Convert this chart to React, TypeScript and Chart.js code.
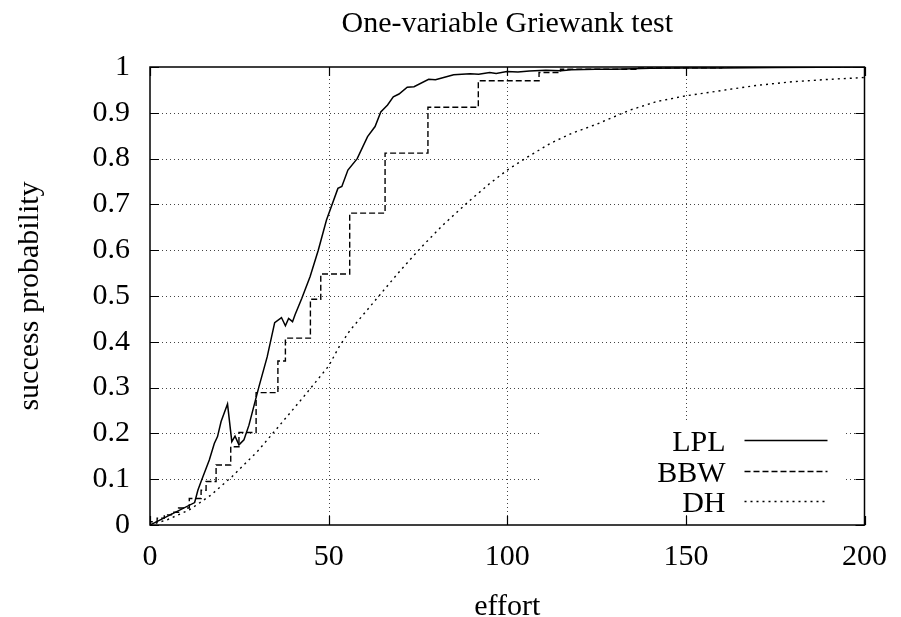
import React, { useEffect, useRef } from "react";
import { Chart, registerables } from "chart.js";

Chart.register(...registerables);

const TITLE = "One-variable Griewank test";
const X_LABEL = "effort";
const Y_LABEL = "success probability";
const SERIES_NAMES = ["LPL", "BBW", "DH"];
const X_RANGE = [0, 200];
const X_STEP = 50;
const Y_RANGE = [0, 1];
const Y_STEP = 0.1;

// LPL (solid)
const LPL_X = [0, 12.5, 13.4, 14.3, 16.6, 18.0, 18.9, 19.9, 21.7, 22.9, 23.8, 24.9, 26.3, 27.7, 30.5, 32.8, 34.9, 36.8, 37.9, 38.8, 39.9, 40.6, 42.5, 44.8, 47.1, 49.4, 52.6, 53.7, 55.4, 58.0, 60.9, 63.0, 64.6, 66.5, 68.1, 69.7, 72.0, 73.9, 78.0, 79.9, 82.2, 85.0, 89.6, 92, 95.1, 96.9, 99.9, 103, 106.2, 110.8, 115, 118, 124.7, 130, 140, 150, 160, 175, 200];
const LPL_Y = [0, 0.049, 0.076, 0.095, 0.142, 0.178, 0.193, 0.226, 0.264, 0.182, 0.194, 0.175, 0.186, 0.218, 0.302, 0.367, 0.442, 0.453, 0.435, 0.451, 0.444, 0.459, 0.495, 0.542, 0.6, 0.666, 0.735, 0.739, 0.775, 0.8, 0.848, 0.87, 0.902, 0.917, 0.935, 0.941, 0.956, 0.957, 0.973, 0.972, 0.977, 0.983, 0.985, 0.984, 0.988, 0.986, 0.99, 0.989, 0.991, 0.993, 0.992, 0.994, 0.995, 0.995, 0.997, 0.998, 0.998, 0.999, 1.0];

// BBW (dashed, step function: value holds from x until next x)
const BBW_X = [0, 2, 4, 6, 8, 11, 14.3, 15.7, 18.5, 22.6, 24.9, 29.7, 35.8, 37.9, 44.9, 47.8, 55.9, 65.8, 77.8, 91.9, 108.9, 114.9, 136, 160, 180, 200];
const BBW_Y = [0, 0.007, 0.015, 0.022, 0.028, 0.037, 0.058, 0.076, 0.095, 0.131, 0.171, 0.202, 0.289, 0.358, 0.408, 0.493, 0.548, 0.681, 0.812, 0.912, 0.97, 0.988, 0.995, 0.998, 1.0, 1.0];

// DH (dotted)
const DH_X = [0, 5, 11, 17, 23, 30, 36, 43, 50, 53, 56, 63, 70, 76, 82, 89, 95, 100, 106, 112, 118, 125, 134, 142, 150, 162, 170, 180, 190, 200];
const DH_Y = [0, 0.012, 0.033, 0.065, 0.106, 0.16, 0.215, 0.28, 0.347, 0.39, 0.425, 0.49, 0.555, 0.607, 0.655, 0.705, 0.745, 0.775, 0.805, 0.833, 0.855, 0.875, 0.905, 0.925, 0.937, 0.951, 0.96, 0.968, 0.973, 0.977];

const FONT = '"Liberation Serif", "Times New Roman", serif';
const FONT_SIZE = 30;
const LINE_STYLES: number[][] = [[], [6, 3], [2, 4]];

const toPoints = (xs: number[], ys: number[]) => xs.map((x, i) => ({ x, y: ys[i] }));

const gnuplotPlugin = {
  id: "gnuplotFrame",
  beforeDatasetsDraw(chart: any) {
    const { ctx, chartArea: a, scales } = chart;
    const x = scales.x;
    const y = scales.y;
    ctx.save();
    ctx.strokeStyle = "#444";
    ctx.lineWidth = 1;
    ctx.setLineDash([1, 3]);
    x.ticks.forEach((t: any) => {
      if (t.value > x.min && t.value < x.max) {
        const px = Math.round(x.getPixelForValue(t.value)) + 0.5;
        ctx.beginPath();
        ctx.moveTo(px, a.top);
        ctx.lineTo(px, a.bottom);
        ctx.stroke();
      }
    });
    y.ticks.forEach((t: any) => {
      if (t.value > y.min + 1e-9 && t.value < y.max - 1e-9) {
        const py = Math.round(y.getPixelForValue(t.value)) + 0.5;
        ctx.beginPath();
        ctx.moveTo(a.left, py);
        ctx.lineTo(a.right, py);
        ctx.stroke();
      }
    });
    // key area cleared like gnuplot
    ctx.setLineDash([]);
    ctx.fillStyle = "#fff";
    ctx.fillRect(a.right - 324, a.bottom - 102, 305, 92);
    ctx.restore();
  },
  afterDatasetsDraw(chart: any) {
    const { ctx, chartArea: a, scales } = chart;
    const x = scales.x;
    const y = scales.y;
    ctx.save();
    ctx.strokeStyle = "#000";
    ctx.lineWidth = 1.5;
    ctx.setLineDash([]);
    ctx.strokeRect(a.left, a.top, a.right - a.left, a.bottom - a.top);
    const tl = 9;
    ctx.lineWidth = 1.2;
    x.ticks.forEach((t: any) => {
      const px = Math.round(x.getPixelForValue(t.value)) + 0.5;
      ctx.beginPath();
      ctx.moveTo(px, a.bottom);
      ctx.lineTo(px, a.bottom - tl);
      ctx.moveTo(px, a.top);
      ctx.lineTo(px, a.top + tl);
      ctx.stroke();
    });
    y.ticks.forEach((t: any) => {
      const py = Math.round(y.getPixelForValue(t.value)) + 0.5;
      ctx.beginPath();
      ctx.moveTo(a.left, py);
      ctx.lineTo(a.left + tl, py);
      ctx.moveTo(a.right, py);
      ctx.lineTo(a.right - tl, py);
      ctx.stroke();
    });

    // key
    ctx.font = `${FONT_SIZE}px ${FONT}`;
    ctx.fillStyle = "#000";
    ctx.textAlign = "right";
    ctx.textBaseline = "alphabetic";
    const rows = [440, 471, 501];
    chart.data.datasets.forEach((ds: any, i: number) => {
      const ry = a.top + (rows[i] - 67);
      ctx.fillText(ds.label, a.right - 139, ry + 11);
      ctx.lineWidth = 1.4;
      ctx.setLineDash(LINE_STYLES[i]);
      ctx.beginPath();
      ctx.moveTo(a.right - 120, ry + 0.5);
      ctx.lineTo(a.right - 37, ry + 0.5);
      ctx.stroke();
    });
    ctx.setLineDash([]);

    // titles
    const cx = (a.left + a.right) / 2;
    ctx.textAlign = "center";
    ctx.fillText(TITLE, cx, 32);
    ctx.fillText(X_LABEL, cx, 615);
    ctx.save();
    ctx.translate(38, (a.top + a.bottom) / 2);
    ctx.rotate(-Math.PI / 2);
    ctx.fillText(Y_LABEL, 0, 0);
    ctx.restore();
    ctx.restore();
  },
};

export default function App() {
  const ref = useRef<HTMLCanvasElement | null>(null);
  useEffect(() => {
    document.body.style.margin = "0";
    const canvas = ref.current;
    if (!canvas) return;
    const chart = new Chart(canvas, {
      type: "line",
      data: {
        datasets: [
          {
            label: SERIES_NAMES[0],
            data: toPoints(LPL_X, LPL_Y),
            borderColor: "#000",
            borderWidth: 1.5,
            pointRadius: 0,
            tension: 0,
            fill: false,
          },
          {
            label: SERIES_NAMES[1],
            data: toPoints(BBW_X, BBW_Y),
            borderColor: "#000",
            borderWidth: 1.4,
            borderDash: LINE_STYLES[1],
            pointRadius: 0,
            stepped: "after",
            fill: false,
          },
          {
            label: SERIES_NAMES[2],
            data: toPoints(DH_X, DH_Y),
            borderColor: "#000",
            borderWidth: 1.4,
            borderDash: LINE_STYLES[2],
            pointRadius: 0,
            tension: 0,
            fill: false,
          },
        ],
      },
      options: {
        animation: false,
        responsive: false,
        devicePixelRatio: 1,
        layout: { padding: { top: 67, right: 29, left: 0, bottom: 0 } },
        plugins: { legend: { display: false }, tooltip: { enabled: false }, title: { display: false } },
        scales: {
          x: {
            type: "linear",
            min: X_RANGE[0],
            max: X_RANGE[1],
            ticks: {
              stepSize: X_STEP,
              color: "#000",
              padding: 14,
              maxRotation: 0,
              font: { family: FONT, size: FONT_SIZE },
            },
            grid: { display: false, drawTicks: false },
            border: { display: false },
            afterFit: (s: any) => {
              s.height = 92;
            },
          },
          y: {
            type: "linear",
            min: Y_RANGE[0],
            max: Y_RANGE[1],
            ticks: {
              stepSize: Y_STEP,
              color: "#000",
              padding: 20,
              font: { family: FONT, size: FONT_SIZE },
              callback: (v: any) => String(Math.round(Number(v) * 10) / 10),
            },
            grid: { display: false, drawTicks: false },
            border: { display: false },
            afterFit: (s: any) => {
              s.width = 150;
            },
          },
        },
      },
      plugins: [gnuplotPlugin],
    });
    return () => chart.destroy();
  }, []);
  return (
    <div style={{ width: 901, height: 617 }}>
      <canvas ref={ref} width={901} height={617} style={{ display: "block" }} />
    </div>
  );
}
